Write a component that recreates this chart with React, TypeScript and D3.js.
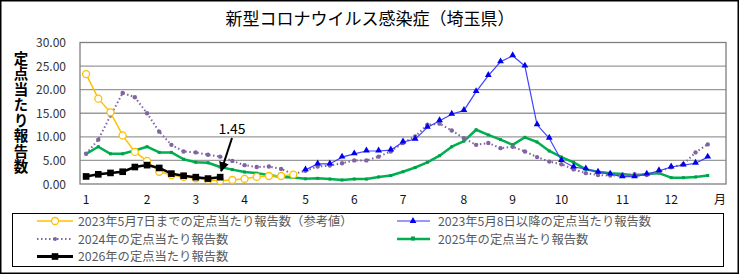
import React from "react";
import * as d3 from "d3";

// month labels on the weekly category axis (53 slots)
const monthTicks: [number, string][] = [
  [0, "1"], [5, "2"], [9, "3"], [13, "4"], [18, "5"], [22, "6"], [26, "7"],
  [31, "8"], [35, "9"], [39, "10"], [44, "11"], [48, "12"], [52, "月"],
];
const yTicks = [0, 5, 10, 15, 20, 25, 30];

// 2023 up to May 7 (weeks 1-18)
const s2023a = [23.3, 18.1, 15.2, 10.3, 6.8, 4.9, 2.6, 1.9, 1.5, 1.2, 0.85, 0.7, 0.85, 1.1, 1.5, 1.7, 1.7, 2.0];
// 2023 from May 8 (weeks 19-52)
const s2023b = [3.0, 4.25, 4.25, 5.7, 6.4, 7.0, 7.0, 7.2, 8.9, 9.5, 12.0, 13.4, 14.8, 15.6, 19.6, 23.0, 25.9, 27.2,
  25.0, 12.55, 9.7, 5.0, 3.6, 3.2, 2.5, 2.1, 1.55, 1.55, 2.1, 2.8, 3.6, 4.0, 4.4, 5.7];
const s2024 = [6.4, 9.4, 14.5, 19.3, 18.4, 15.0, 11.1, 8.3, 6.9, 6.7, 6.2, 5.8, 4.9, 4.0, 3.6, 3.7, 3.2, 2.1,
  2.8, 3.7, 3.9, 4.4, 5.0, 5.0, 5.8, 6.9, 8.7, 10.1, 12.55, 12.8, 11.35, 9.7, 8.3, 8.7, 7.6, 7.9,
  6.9, 5.7, 4.75, 4.2, 3.1, 2.3, 1.9, 1.8, 1.8, 2.1, 1.9, 2.6, 3.55, 4.2, 6.7, 8.4];
const s2025 = [6.4, 7.9, 6.4, 6.4, 7.1, 7.9, 6.7, 6.7, 5.25, 4.6, 4.5, 3.6, 3.05, 2.55, 2.3, 1.9, 1.5, 1.4,
  1.1, 1.2, 1.05, 0.85, 1.05, 1.05, 1.5, 1.8, 2.6, 3.5, 4.6, 6.0, 7.9, 9.1, 11.5, 10.4, 9.4, 8.3,
  9.9, 8.9, 7.0, 5.7, 4.6, 3.1, 2.6, 2.3, 2.1, 1.8, 2.1, 2.3, 1.35, 1.35, 1.5, 1.8];
const s2026 = [1.6, 2.05, 2.35, 2.6, 3.6, 4.0, 3.4, 2.2, 1.75, 1.45, 1.15, 1.45];

const yTitle = "定点当たり報告数";
const FONT = "'Noto Sans CJK JP', 'Noto Sans', sans-serif";

const x = d3.scaleBand<number>().domain(d3.range(53)).range([80, 726]);
const y = d3.scaleLinear().domain([0, 30]).range([184, 42.5]);
const cx = (i: number) => (x(i) as number) + x.bandwidth() / 2;

type Pt = { i: number; v: number };
const toPts = (arr: number[], start: number): Pt[] => arr.map((v, k) => ({ i: start + k, v }));
const line = d3.line<Pt>().x((d) => cx(d.i)).y((d) => y(d.v));

const tri = d3.symbol().type(d3.symbolTriangle).size(20)();
const sq = d3.symbol().type(d3.symbolSquare).size(44)();

export default function App() {
  const p23a = toPts(s2023a, 0);
  const p23b = toPts(s2023b, 18);
  const p24 = toPts(s2024, 0);
  const p25 = toPts(s2025, 0);
  const p26 = toPts(s2026, 0);
  const last = p26[p26.length - 1];

  const legend = [
    { x: 37, y: 221, label: "2023年5月7日までの定点当たり報告数（参考値）", kind: "orange" },
    { x: 397, y: 221, label: "2023年5月8日以降の定点当たり報告数", kind: "blue" },
    { x: 37, y: 239, label: "2024年の定点当たり報告数", kind: "purple" },
    { x: 397, y: 239, label: "2025年の定点当たり報告数", kind: "green" },
    { x: 37, y: 256.5, label: "2026年の定点当たり報告数", kind: "black" },
  ];

  const swatch = (kind: string, x0: number, yy: number) => {
    const mid = x0 + 18;
    if (kind === "orange")
      return (
        <g>
          <line x1={x0} x2={x0 + 36} y1={yy} y2={yy} stroke="#FFC000" strokeWidth={1.5} />
          <circle cx={mid} cy={yy} r={3.5} fill="#fff" stroke="#FFC000" strokeWidth={1.3} />
        </g>
      );
    if (kind === "blue")
      return (
        <g>
          <line x1={x0} x2={x0 + 33} y1={yy} y2={yy} stroke="#3333FF" strokeWidth={1.2} />
          <path d={tri as string} transform={`translate(${x0 + 16},${yy})`} fill="#0000EE" />
        </g>
      );
    if (kind === "purple")
      return (
        <g>
          <line x1={x0} x2={x0 + 36} y1={yy} y2={yy} stroke="#8064A2" strokeWidth={2} strokeDasharray="1.5,2.5" />
          <circle cx={mid} cy={yy} r={2} fill="#8064A2" />
        </g>
      );
    if (kind === "green")
      return (
        <g>
          <line x1={x0} x2={x0 + 33} y1={yy} y2={yy} stroke="#00B050" strokeWidth={2.5} />
          <rect x={x0 + 14} y={yy - 2.5} width={4} height={4} fill="#00A048" />
        </g>
      );
    return (
      <g>
        <line x1={x0} x2={x0 + 36} y1={yy} y2={yy} stroke="#000" strokeWidth={3} />
        <path d={sq as string} transform={`translate(${mid},${yy})`} fill="#000" />
      </g>
    );
  };

  return (
    <svg width={740} height={275} style={{ position: "absolute", left: 0, top: 0, background: "#fff" }} fontFamily={FONT}>
      <rect x={0.75} y={0.75} width={737.5} height={272.5} fill="#fff" stroke="#000" strokeWidth={1.5} />

      <text x={370} y={25} textAnchor="middle" fontSize={17} fill="#000">
        新型コロナウイルス感染症（埼玉県）
      </text>

      {/* y title, vertical */}
      <text x={21} y={51} fontSize={14.5} fontWeight="bold" fill="#000"
        style={{ writingMode: "vertical-rl", letterSpacing: "1px" }}>
        {yTitle}
      </text>

      {/* grid */}
      {yTicks.slice(1, -1).map((t) => (
        <line key={t} x1={80} x2={726} y1={y(t)} y2={y(t)} stroke="#9a9a9a" strokeWidth={1.3} />
      ))}
      <rect x={80} y={y(30)} width={646} height={y(0) - y(30)} fill="none" stroke="#7f7f7f" strokeWidth={1.3} />

      {yTicks.map((t) => (
        <text key={t} x={66} y={y(t) + 4.5} textAnchor="end" fontSize={12} fill="#333">
          {t.toFixed(2)}
        </text>
      ))}
      {monthTicks.map(([i, l]) => (
        <text key={i} x={cx(i)} y={204} textAnchor="middle" fontSize={12} fill="#111">
          {l}
        </text>
      ))}

      {/* 2025 green */}
      <path d={line(p25) as string} fill="none" stroke="#00B050" strokeWidth={2.5} strokeLinejoin="round" />
      {p25.map((d) => (
        <rect key={d.i} x={cx(d.i) - 1.5} y={y(d.v) - 1.5} width={3} height={3} fill="#00A048" />
      ))}

      {/* 2024 purple dotted */}
      <path d={line(p24) as string} fill="none" stroke="#8064A2" strokeWidth={2} strokeDasharray="1.5,2.5" />
      {p24.map((d) => (
        <circle key={d.i} cx={cx(d.i)} cy={y(d.v)} r={2.2} fill="#8064A2" />
      ))}

      {/* 2023 from May 8 blue */}
      <path d={line(p23b) as string} fill="none" stroke="#4040FF" strokeWidth={1.2} />
      {p23b.map((d) => (
        <path key={d.i} d={tri as string} transform={`translate(${cx(d.i)},${y(d.v) - 0.5})`} fill="#0000EE" />
      ))}

      {/* 2023 up to May 7 orange */}
      <path d={line(p23a) as string} fill="none" stroke="#FFC000" strokeWidth={1.5} />
      {p23a.map((d) => (
        <circle key={d.i} cx={cx(d.i)} cy={y(d.v)} r={3.5} fill="#fff" stroke="#FFC000" strokeWidth={1.3} />
      ))}

      {/* 2026 black */}
      <path d={line(p26) as string} fill="none" stroke="#000" strokeWidth={2.5} />
      {p26.map((d) => (
        <path key={d.i} d={sq as string} transform={`translate(${cx(d.i)},${y(d.v)})`} fill="#000" />
      ))}

      {/* annotation */}
      <defs>
        <marker id="arr" viewBox="0 0 10 10" refX={9} refY={5} markerWidth={5} markerHeight={5} orient="auto">
          <path d="M0,0 L10,5 L0,10 z" fill="#000" />
        </marker>
      </defs>
      <line x1={232} y1={138} x2={cx(last.i) + 1} y2={y(last.v) - 6} stroke="#000" strokeWidth={2} markerEnd="url(#arr)" />
      <text x={232} y={134} textAnchor="middle" fontSize={14} fill="#000">
        {last.v.toFixed(2)}
      </text>

      {/* legend */}
      <rect x={12.5} y={213.5} width={711} height={53} fill="#fff" stroke="#000" strokeWidth={1} />
      {legend.map((e) => (
        <g key={e.label}>
          {swatch(e.kind, e.x, e.y)}
          <text x={e.x + 41} y={e.y + 4.5} fontSize={12.3} fill="#595959">
            {e.label}
          </text>
        </g>
      ))}
    </svg>
  );
}
